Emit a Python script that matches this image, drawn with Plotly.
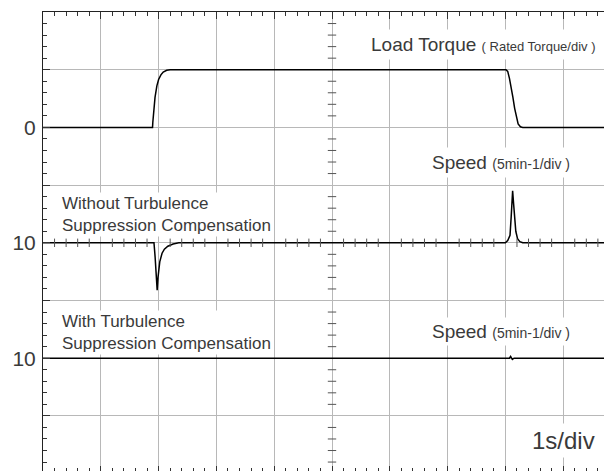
import plotly.graph_objects as go

# ---- data (time in s, 1 s/div; amplitudes in divisions) ----
torque_t = [0, 1.895, 1.90, 1.938, 1.97, 2.00, 2.04, 2.08, 2.14, 2.20,
            8.01, 8.04, 8.07, 8.10, 8.13, 8.16, 8.19, 8.22, 8.26, 8.30, 10]
torque_v = [0, 0, 0.09, 0.52, 0.72, 0.83, 0.91, 0.96, 0.99, 1.0,
            1.0, 0.97, 0.85, 0.70, 0.52, 0.33, 0.16, 0.06, 0.01, 0, 0]

speed1_t = [0, 1.92, 1.94, 1.96, 1.975, 1.99, 2.02, 2.06, 2.10, 2.16, 2.25, 2.35,
            8.00, 8.04, 8.08, 8.10, 8.115, 8.125, 8.14, 8.16, 8.18, 8.21, 8.25, 8.30, 10]
speed1_v = [0, 0, -0.25, -0.65, -0.82, -0.60, -0.33, -0.18, -0.11, -0.06, -0.02, 0,
            0, 0.04, 0.13, 0.45, 0.80, 0.90, 0.70, 0.38, 0.20, 0.07, 0.02, 0, 0]

speed2_t = [0, 8.07, 8.09, 8.12, 8.15, 10]
speed2_v = [0, 0, 0.03, -0.02, 0, 0]

y_tick_vals = [0, 1, 2, 3, 4, 5, 6, 7, 8]
y_tick_text = ["", "", "10", "", "10", "", "0", "", ""]

# channel positions on the screen (div)
TORQUE_POS = 6
SPEED1_POS = 4
SPEED2_POS = 2

# the page body adds an 8 px offset, so the figure is 8 px smaller
FIG_W, FIG_H = 604, 463
ML, MT = 35, 4
X_MAX = (FIG_W - ML) / 57.8
Y_MIN = 8 - (FIG_H - MT) / 57.7

FONT = "Liberation Sans, Arial, sans-serif"
TXT = "#3a3a3a"
GRID = "#b8b8b8"
TICK = "#333333"

fig = go.Figure()
line = dict(color="black", width=1.5)
fig.add_trace(go.Scatter(x=torque_t, y=[v + TORQUE_POS for v in torque_v],
                         mode="lines", line=line, hoverinfo="skip"))
fig.add_trace(go.Scatter(x=speed1_t, y=[v + SPEED1_POS for v in speed1_v],
                         mode="lines", line=line, hoverinfo="skip"))
fig.add_trace(go.Scatter(x=speed2_t, y=[v + SPEED2_POS for v in speed2_v],
                         mode="lines", line=line, hoverinfo="skip"))

# centre-line graticule ticks
cx = [round(0.2 * i, 2) for i in range(1, 50) if i % 5]
cy = [round(0.2 * i, 2) for i in range(1, 40) if i % 5]
fig.add_trace(go.Scatter(x=cx, y=[4] * len(cx), mode="markers",
                         marker=dict(symbol="line-ns", size=6,
                                     line=dict(color="#555", width=1)),
                         hoverinfo="skip"))
fig.add_trace(go.Scatter(x=[5] * len(cy), y=cy, mode="markers",
                         marker=dict(symbol="line-ew", size=6,
                                     line=dict(color="#555", width=1)),
                         hoverinfo="skip"))

axis_common = dict(showline=True, linecolor="#222", linewidth=1, zeroline=False,
                   ticks="inside", ticklen=7, tickcolor=TICK, tickwidth=1,
                   automargin=False)

fig.update_layout(
    width=FIG_W, height=FIG_H, autosize=False,
    margin=dict(l=ML, r=0, t=MT, b=0, pad=0),
    paper_bgcolor="white", plot_bgcolor="white",
    showlegend=False,
    xaxis=dict(range=[0, X_MAX], side="top", dtick=1, tick0=0,
               showgrid=True, gridcolor=GRID, gridwidth=1,
               showticklabels=False,
               minor=dict(dtick=0.2, ticks="inside", ticklen=4, tickcolor=TICK,
                          showgrid=False),
               **axis_common),
    xaxis2=dict(range=[0, X_MAX], overlaying="x", side="bottom", anchor="y",
                dtick=1, tick0=0, showgrid=False, showline=False, zeroline=False,
                showticklabels=False, ticks="inside", ticklen=5, tickcolor=TICK,
                automargin=False,
                minor=dict(dtick=0.2, ticks="inside", ticklen=3, tickcolor=TICK)),
    yaxis=dict(range=[Y_MIN, 8], tickmode="array", tickvals=y_tick_vals,
               ticktext=y_tick_text, showgrid=True, gridcolor=GRID, gridwidth=1,
               tickfont=dict(family=FONT, size=21, color=TXT),
               ticklabelstandoff=2,
               minor=dict(dtick=0.2, ticks="inside", ticklen=4, tickcolor=TICK,
                          showgrid=False),
               **axis_common),
)
# invisible trace to activate the bottom tick axis
fig.add_trace(go.Scatter(x=[0], y=[Y_MIN - 1], xaxis="x2", mode="markers",
                         marker=dict(size=1, color="white"), hoverinfo="skip"))

def note(text, px, y, size, pad=3):
    # px: left edge of the text in screen pixels
    fig.add_annotation(text=text, x=(px - pad - 2 - 43) / 57.8, y=y,
                       xref="x", yref="y", showarrow=False,
                       xanchor="left", yanchor="middle", align="left",
                       font=dict(family=FONT, size=size, color=TXT),
                       bgcolor="white", borderpad=pad)

note("Load Torque <span style='font-size:13px'>( Rated Torque/div )</span>",
     372, 8 - (44 - 12) / 57.7, 19, pad=4)
note("Speed <span style='font-size:14px'>(5min-1/div )</span>",
     433, 8 - (162 - 12) / 57.7, 19, pad=4)
note("Without Turbulence<br>Suppression Compensation",
     63, 8 - (214 - 12) / 57.7, 17, pad=1)
note("With Turbulence<br>Suppression Compensation",
     63, 8 - (332 - 12) / 57.7, 17, pad=1)
note("Speed <span style='font-size:14px'>(5min-1/div )</span>",
     433, 8 - (331 - 12) / 57.7, 19, pad=3)
note("1s/div", 533, 8 - (440 - 12) / 57.7, 24, pad=3)

fig.write_html("out.html")
